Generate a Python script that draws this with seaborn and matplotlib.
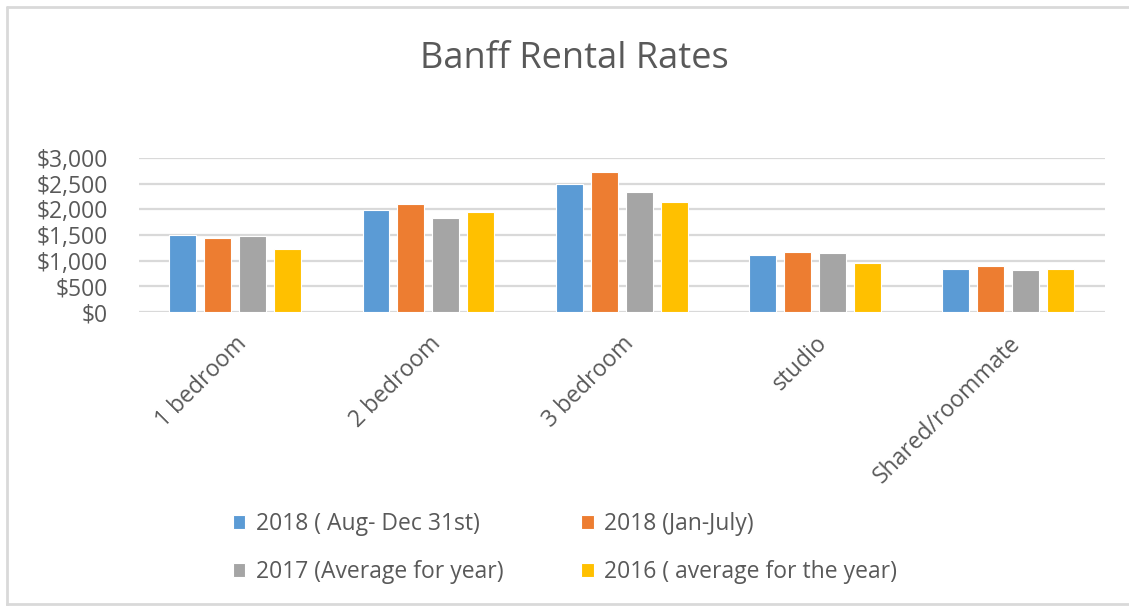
import matplotlib
import numpy as np
import pandas as pd
import seaborn as sns
import matplotlib.pyplot as plt
from matplotlib.ticker import StrMethodFormatter, MultipleLocator
from matplotlib.lines import Line2D

categories = ["1 bedroom", "2 bedroom", "3 bedroom", "studio", "Shared/roommate"]
series = ["2018 ( Aug- Dec 31st)", "2018 (Jan-July)",
          "2017 (Average for year)", "2016 ( average for the year)"]
rent_2018_aug_dec = [1510, 1985, 2505, 1105, 845]
rent_2018_jan_jul = [1440, 2115, 2740, 1180, 895]
rent_2017 = [1475, 1830, 2350, 1150, 820]
rent_2016 = [1235, 1960, 2145, 950, 845]
colors = ["#5B9BD5", "#ED7D31", "#A5A5A5", "#FFC000"]

sns.set_theme(style="white")
plt.rcParams['font.family'] = ['Open Sans', 'DejaVu Sans']
text_col = "#595959"

rows = []
for s, vals in zip(series, [rent_2018_aug_dec, rent_2018_jan_jul, rent_2017, rent_2016]):
    for c, v in zip(categories, vals):
        rows.append({"category": c, "series": s, "rent": v})
df = pd.DataFrame(rows)

fig = plt.figure(figsize=(11.29, 6.06), dpi=100)
ax = fig.add_axes([0.1227, 0.485, 0.856, 0.254])

sns.barplot(data=df, x="category", y="rent", hue="series", order=categories,
            hue_order=series, palette=colors, saturation=1, width=0.724, gap=0.23,
            edgecolor="white", linewidth=0.8, ax=ax, zorder=3)

ax.set_ylim(0, 3000)
ax.set_xlim(-0.5, len(categories) - 0.5)
ax.yaxis.set_major_locator(MultipleLocator(500))
ax.yaxis.set_major_formatter(StrMethodFormatter("${x:,.0f}"))
ax.grid(axis="y", color="#D9D9D9", lw=1.6, zorder=0)
ax.set_axisbelow(True)
for sp in ax.spines.values():
    sp.set_visible(False)
ax.set_xlabel("")
ax.set_ylabel("")
ax.tick_params(axis="y", labelsize=16.5, colors=text_col, pad=22, length=0)
ax.tick_params(axis="x", labelsize=16.5, colors=text_col, pad=14, length=0)
plt.setp(ax.get_xticklabels(), rotation=45, ha="right", rotation_mode="anchor")

# legend is filled row by row in the reference
handles, labels = ax.get_legend_handles_labels()
ax.get_legend().remove()
order = [0, 2, 1, 3]
fig.legend([handles[i] for i in order], [labels[i] for i in order], ncol=2,
           loc="upper left", bbox_to_anchor=(0.198, 0.17),
           frameon=False, fontsize=16.5, labelcolor=text_col, handlelength=0.55,
           handleheight=0.55, handletextpad=0.45, columnspacing=3.4,
           labelspacing=1.05, borderaxespad=0)

fig.text(0.509, 0.902, "Banff Rental Rates", ha="center", va="center",
         fontsize=26, color=text_col)

# chart area border
for xs, ys in [([0.006, 0.006], [0.0, 0.988]), ([0.006, 1.0], [0.988, 0.988]),
               ([0.006, 1.0], [0.003, 0.003])]:
    fig.add_artist(Line2D(xs, ys, color="#D9D9D9", lw=2, transform=fig.transFigure))

fig.savefig("out.png", dpi=100)
